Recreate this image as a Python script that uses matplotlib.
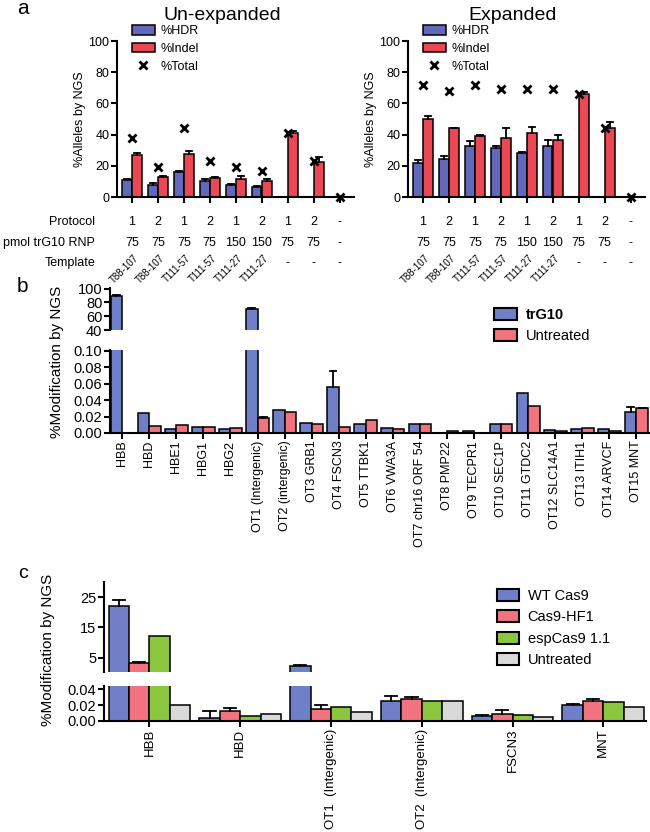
import numpy as np
import matplotlib.pyplot as plt
from matplotlib.patches import Patch
from matplotlib.lines import Line2D
from matplotlib.transforms import blended_transform_factory

plt.rcParams['font.family'] = ['Liberation Sans', 'DejaVu Sans']

# =========================================================
# Data
# =========================================================
# ---- panel a ----
protocol = ['1', '2', '1', '2', '1', '2', '1', '2', '-']
pmol_rnp = ['75', '75', '75', '75', '150', '150', '75', '75', '-']
template = ['T88-107', 'T88-107', 'T111-57', 'T111-57', 'T111-27', 'T111-27', '-', '-', '-']

hdr_unexp = [11, 7.5, 16, 10.5, 8, 6.5, 0.3, 0.3, 0]
hdr_unexp_err = [0.5, 1.2, 0.5, 1.2, 0.5, 0.8, 0, 0, 0]
indel_unexp = [27, 13, 27.5, 12.5, 11.5, 10.5, 41, 22.5, 0]
indel_unexp_err = [1.2, 0.5, 2, 0.3, 2, 0.8, 1, 3, 0]
total_unexp = [38, 19.5, 44, 23, 19, 16.5, 41, 23, 0]

hdr_exp = [22, 24.5, 33, 31.5, 28, 33, 0.3, 0.3, 0]
hdr_exp_err = [2, 1.5, 3, 1.5, 1, 3.5, 0, 0, 0]
indel_exp = [50, 44, 39, 38, 41, 36.5, 66, 44, 0]
indel_exp_err = [2, 0.5, 1, 6, 4, 3.5, 1, 4, 0]
total_exp = [72, 68, 72, 69.5, 69.5, 69.5, 66, 44, 0]

# ---- panel b ----
sites_b = ['HBB', 'HBD', 'HBE1', 'HBG1', 'HBG2', 'OT1 (Intergenic)', 'OT2 (intergenic)',
           'OT3 GRB1', 'OT4 FSCN3', 'OT5 TTBK1', 'OT6 VWA3A', 'OT7 chr16 ORF 54',
           'OT8 PMP22', 'OT9 TECPR1', 'OT10 SEC1P', 'OT11 GTDC2', 'OT12 SLC14A1',
           'OT13 ITIH1', 'OT14 ARVCF', 'OT15 MNT']
trg10 = [89, 0.024, 0.005, 0.0077, 0.0048, 70, 0.0274, 0.012, 0.0556, 0.0105,
         0.0056, 0.0105, 0, 0.002, 0.0105, 0.0484, 0.004, 0.0048, 0.0052, 0.025]
trg10_err = [2, 0, 0, 0, 0, 2.5, 0, 0, 0.02, 0,
             0, 0, 0, 0, 0, 0, 0, 0, 0, 0.007]
untreated_b = [0, 0.0089, 0.0097, 0.0073, 0.0056, 0.0185, 0.025, 0.0105, 0.0073, 0.016,
               0.0048, 0.0105, 0.0025, 0, 0.0105, 0.0323, 0.002, 0.006, 0.003, 0.0302]
untreated_b_err = [0, 0, 0, 0, 0, 0.0008, 0, 0, 0, 0,
                   0, 0, 0, 0, 0, 0, 0, 0, 0, 0.0008]

# ---- panel c ----
sites_c = ['HBB', 'HBD', 'OT1  (Intergenic)', 'OT2  (Intergenic)', 'FSCN3', 'MNT']
wt_cas9 = [22, 0.0043, 2.3, 0.0247, 0.0068, 0.020]
wt_cas9_err = [2, 0.0085, 0.3, 0.007, 0.001, 0.0013]
cas9_hf1 = [3.4, 0.0128, 0.0157, 0.0272, 0.0094, 0.0251]
cas9_hf1_err = [0.3, 0.004, 0.004, 0.0034, 0.005, 0.002]
espcas9 = [12.3, 0.0068, 0.017, 0.0255, 0.0081, 0.0238]
untreated_c = [0.02, 0.0094, 0.0115, 0.0255, 0.0051, 0.0179]

BLUE_A, RED_A = '#6268ba', '#ea4853'
BLUE_B, RED_B = '#6f80c8', '#f0737f'
GREEN_C, GREY_C = '#8cc63f', '#d9d9d9'

# =========================================================
# Helpers
# =========================================================
W, H = 650, 832
fig = plt.figure(figsize=(6.5, 8.32), dpi=100)


def fx(px):
    return px / W


def fy(py):
    return 1 - py / H


def box(x0, y0, x1, y1):
    return [fx(x0), fy(y1), (x1 - x0) / W, (y1 - y0) / H]


def style(ax, bottom=True, fs=9):
    for s in ['top', 'right']:
        ax.spines[s].set_visible(False)
    ax.spines['left'].set_linewidth(1.5)
    ax.spines['bottom'].set_linewidth(1.5)
    ax.tick_params(width=1.5, length=4, direction='out', labelsize=fs, pad=1.5)
    if not bottom:
        ax.spines['bottom'].set_visible(False)
        ax.tick_params(axis='x', bottom=False, labelbottom=False)


def bars(ax, x, vals, errs, width, color):
    # Prism-like bars with upper-only error bars
    ax.bar(x, vals, width, color=color, edgecolor='black', linewidth=1.1, zorder=2)
    if errs is None:
        return
    cap = width * 0.3
    for xi, v, e in zip(x, vals, errs):
        if e > 0:
            ax.plot([xi, xi], [v, v + e], color='black', lw=1.3, zorder=3)
            ax.plot([xi - cap, xi + cap], [v + e, v + e], color='black', lw=1.3, zorder=3)


# =========================================================
# Panel a
# =========================================================
xa = np.arange(len(protocol))
panels_a = [
    (117, 'Un-expanded', hdr_unexp, hdr_unexp_err, indel_unexp, indel_unexp_err, total_unexp),
    (408, 'Expanded', hdr_exp, hdr_exp_err, indel_exp, indel_exp_err, total_exp),
]
for left, title, hdr, hdr_e, ind, ind_e, tot in panels_a:
    ax = fig.add_axes(box(left, 41, left + 237, 197))
    bars(ax, xa - 0.2, hdr, hdr_e, 0.38, BLUE_A)
    bars(ax, xa + 0.2, ind, ind_e, 0.38, RED_A)
    ax.plot(xa, tot, 'x', color='black', ms=6, mew=2, clip_on=False, zorder=4)
    ax.set_xlim(-0.57, 8.55)
    ax.set_ylim(0, 100)
    ax.set_yticks(range(0, 101, 20))
    ax.set_xticks(xa)
    ax.set_xticklabels([])
    style(ax, fs=9)
    ax.set_ylabel('%Alleles by NGS', fontsize=9, labelpad=2)
    fig.text(fx(left + 105), fy(15), title, fontsize=14, ha='center', va='center')

    handles = [Patch(facecolor=BLUE_A, edgecolor='black', lw=1.1, label='%HDR'),
               Patch(facecolor=RED_A, edgecolor='black', lw=1.1, label='%Indel'),
               Line2D([], [], ls='none', marker='x', color='black', ms=6, mew=2, label='%Total')]
    fig.legend(handles=handles, loc='upper left', bbox_to_anchor=(fx(left + 15), fy(25)),
               frameon=False, fontsize=9, handlelength=1.8, handleheight=0.8,
               handletextpad=0.5, labelspacing=0.45, borderpad=0, borderaxespad=0)

    tr = blended_transform_factory(ax.transData, fig.transFigure)
    for i in xa:
        ax.text(i, fy(222), protocol[i], transform=tr, ha='center', va='center', fontsize=9)
        ax.text(i, fy(243), pmol_rnp[i], transform=tr, ha='center', va='center', fontsize=9)
        if template[i] == '-':
            ax.text(i, fy(263), '-', transform=tr, ha='center', va='center', fontsize=9)
        else:
            ax.text(i + 0.2, fy(256), template[i], transform=tr, ha='right', va='center',
                    rotation=45, rotation_mode='anchor', fontsize=7)

for label, py in [('Protocol', 222), ('pmol trG10 RNP', 243), ('Template', 263)]:
    fig.text(fx(95), fy(py), label, ha='right', va='center', fontsize=9)

# =========================================================
# Panel b (broken axis)
# =========================================================
xb = np.arange(len(sites_b))
axb_top = fig.add_axes(box(110, 288, 650, 330))
axb_bot = fig.add_axes(box(110, 350, 650, 433))
for ax in (axb_top, axb_bot):
    bars(ax, xb - 0.21, trg10, trg10_err, 0.42, BLUE_B)
    bars(ax, xb + 0.21, untreated_b, untreated_b_err, 0.42, RED_B)
    ax.set_xlim(-0.45, 19.5)
axb_top.set_ylim(40, 101)
axb_top.set_yticks([40, 60, 80, 100])
style(axb_top, bottom=False, fs=10.5)
axb_bot.set_ylim(0, 0.101)
axb_bot.set_yticks(np.arange(0, 0.101, 0.02))
axb_bot.set_yticklabels(['%.2f' % v for v in np.arange(0, 0.101, 0.02)])
axb_bot.set_xticks(xb)
axb_bot.set_xticklabels(sites_b, rotation=90)
style(axb_bot, fs=10.5)
axb_bot.tick_params(axis='x', labelsize=9)
fig.text(fx(57), fy(362), '%Modification by NGS', rotation=90, ha='center', va='center', fontsize=11)

handles_b = [Patch(facecolor=BLUE_B, edgecolor='black', lw=1.5, label='trG10'),
             Patch(facecolor=RED_B, edgecolor='black', lw=1.5, label='Untreated')]
leg_b = fig.legend(handles=handles_b, loc='upper left', bbox_to_anchor=(fx(494), fy(308)),
                   frameon=False, fontsize=10.5, handlelength=1.6, handleheight=0.9,
                   handletextpad=0.6, labelspacing=0.5, borderpad=0, borderaxespad=0)
leg_b.get_texts()[0].set_fontweight('bold')

# =========================================================
# Panel c (broken axis)
# =========================================================
xc = np.arange(len(sites_c))
bw = 0.225
axc_top = fig.add_axes(box(104, 582, 646, 672))
axc_bot = fig.add_axes(box(104, 686, 646, 721))
for ax in (axc_top, axc_bot):
    bars(ax, xc - 1.5 * bw, wt_cas9, wt_cas9_err, bw, BLUE_B)
    bars(ax, xc - 0.5 * bw, cas9_hf1, cas9_hf1_err, bw, RED_B)
    bars(ax, xc + 0.5 * bw, espcas9, None, bw, GREEN_C)
    bars(ax, xc + 1.5 * bw, untreated_c, None, bw, GREY_C)
    ax.set_xlim(-0.5, 5.47)
axc_top.set_ylim(0.3, 30)
axc_top.set_yticks([5, 15, 25])
style(axc_top, bottom=False, fs=10.5)
axc_bot.set_ylim(0, 0.044)
axc_bot.set_yticks([0, 0.02, 0.04])
axc_bot.set_yticklabels(['0.00', '0.02', '0.04'])
axc_bot.set_xticks(xc)
axc_bot.set_xticklabels(sites_c, rotation=90)
style(axc_bot, fs=10.5)
axc_bot.tick_params(axis='x', labelsize=9.5)
fig.text(fx(48), fy(650), '%Modification by NGS', rotation=90, ha='center', va='center', fontsize=11)

handles_c = [Patch(facecolor=c, edgecolor='black', lw=1.5, label=l) for c, l in
             [(BLUE_B, 'WT Cas9'), (RED_B, 'Cas9-HF1'), (GREEN_C, 'espCas9 1.1'), (GREY_C, 'Untreated')]]
fig.legend(handles=handles_c, loc='upper left', bbox_to_anchor=(fx(497), fy(589)),
           frameon=False, fontsize=10.5, handlelength=1.5, handleheight=0.9,
           handletextpad=0.6, labelspacing=0.5, borderpad=0, borderaxespad=0)

# ---- panel letters ----
fig.text(fx(17), fy(8), 'a', fontsize=15, va='center')
fig.text(fx(17), fy(286), 'b', fontsize=15, va='center')
fig.text(fx(18), fy(573), 'c', fontsize=14, va='center')

fig.savefig('out.png', dpi=100)
